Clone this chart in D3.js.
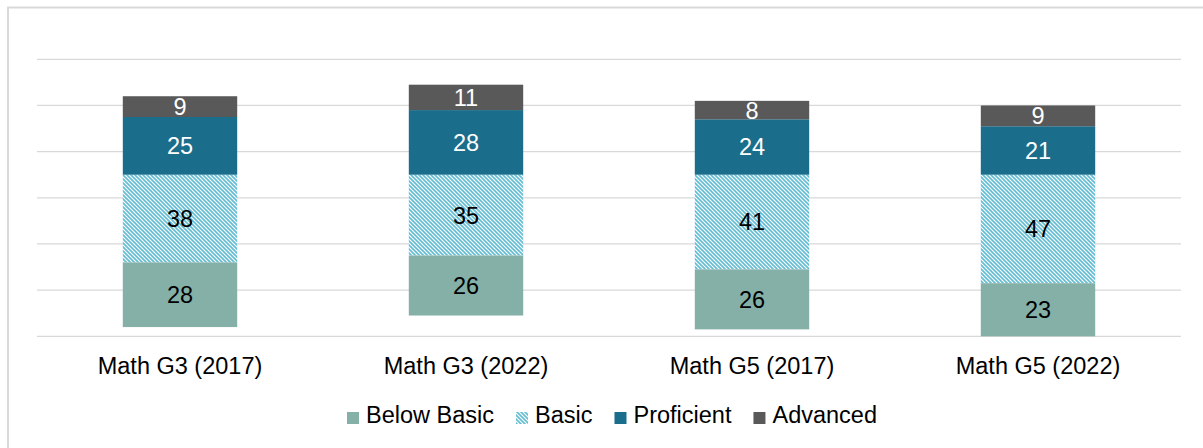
<!DOCTYPE html>
<html>
<head>
<meta charset="utf-8">
<script src="https://cdn.jsdelivr.net/npm/d3@7"></script>
<style>
  html, body { margin: 0; padding: 0; background: #fff; }
  svg { display: block; font-family: Arial, "Liberation Sans", sans-serif; }
</style>
</head>
<body>
<svg id="chart" width="1203" height="448"></svg>
<script>
// Achievement level shares (%) per assessment
const categories = ["Math G3 (2017)", "Math G3 (2022)", "Math G5 (2017)", "Math G5 (2022)"];
const belowBasic = [28, 26, 26, 23];
const basic      = [38, 35, 41, 47];
const proficient = [25, 28, 24, 21];
const advanced   = [9, 11, 8, 9];
const seriesNames = ["Below Basic", "Basic", "Proficient", "Advanced"];
const yTicks = [-70, -50, -30, -10, 10, 30, 50];

const svg = d3.select("#chart");

// outer frame
svg.append("rect")
  .attr("x", 8).attr("y", 7.5)
  .attr("width", 1300).attr("height", 600)
  .attr("fill", "none").attr("stroke", "#d9d9d9").attr("stroke-width", 2);

// hatch pattern for "Basic"
const defs = svg.append("defs");
const pat = defs.append("pattern")
  .attr("id", "hatch").attr("patternUnits", "userSpaceOnUse")
  .attr("width", 4).attr("height", 4);
pat.append("rect").attr("width", 4).attr("height", 4).attr("fill", "#ffffff");
pat.append("path")
  .attr("d", "M0,0 L4,4 M-1,3 L1,5 M3,-1 L5,1")
  .attr("stroke", "#62BCD2").attr("stroke-width", 1.6);

const plotLeft = 37, plotRight = 1181;
const x = d3.scaleBand().domain(categories).range([plotLeft, plotRight]).paddingInner(0.6).paddingOuter(0.3);
const y = d3.scaleLinear().domain([-70, 50]).range([336.3, 59.3]);

// gridlines
svg.append("g")
  .selectAll("line").data(yTicks).join("line")
  .attr("x1", plotLeft).attr("x2", plotRight)
  .attr("y1", d => y(d)).attr("y2", d => y(d))
  .attr("stroke", "#d9d9d9").attr("stroke-width", 1.2);

// segments: below basic & basic stack downward from zero, proficient & advanced upward
const fills = ["#84B0A8", "url(#hatch)", "#1A6E8C", "#595959"];
const textColors = ["#000000", "#000000", "#ffffff", "#ffffff"];
const segs = [];
categories.forEach((c, i) => {
  segs.push({ c, s: 1, v: basic[i], y0: -basic[i], y1: 0 });
  segs.push({ c, s: 0, v: belowBasic[i], y0: -basic[i] - belowBasic[i], y1: -basic[i] });
  segs.push({ c, s: 2, v: proficient[i], y0: 0, y1: proficient[i] });
  segs.push({ c, s: 3, v: advanced[i], y0: proficient[i], y1: proficient[i] + advanced[i] });
});

svg.append("g").selectAll("rect").data(segs).join("rect")
  .attr("x", d => x(d.c)).attr("width", x.bandwidth())
  .attr("y", d => y(d.y1)).attr("height", d => y(d.y0) - y(d.y1))
  .attr("fill", d => fills[d.s]);

svg.append("g").selectAll("text").data(segs).join("text")
  .attr("x", d => x(d.c) + x.bandwidth() / 2)
  .attr("y", d => (y(d.y0) + y(d.y1)) / 2)
  .attr("dy", "0.36em")
  .attr("text-anchor", "middle")
  .attr("font-size", 23.5)
  .attr("fill", d => textColors[d.s])
  .text(d => d.v);

// category axis labels
const xAxis = d3.axisBottom(x).tickSize(0).tickPadding(0);
const gx = svg.append("g").attr("transform", "translate(0,357)").call(xAxis);
gx.select(".domain").remove();
gx.selectAll("text")
  .attr("font-size", 23.5).attr("fill", "#000").attr("dy", "0.71em")
  .attr("font-family", "Arial, 'Liberation Sans', sans-serif");

// legend
const legend = svg.append("g");
let cx = 0;
const items = [];
seriesNames.forEach((name, i) => {
  const g = legend.append("g").attr("transform", `translate(${cx},0)`);
  g.append("rect").attr("x", 0).attr("y", -11).attr("width", 12).attr("height", 12).attr("fill", fills[i]);
  const t = g.append("text").attr("x", 19).attr("y", 0).attr("font-size", 23.5).attr("fill", "#000").text(name);
  const w = t.node().getComputedTextLength();
  cx += 19 + w + 22;
});
const legendWidth = cx - 22;
legend.attr("transform", `translate(${612 - legendWidth / 2},423)`);
</script>
</body>
</html>
